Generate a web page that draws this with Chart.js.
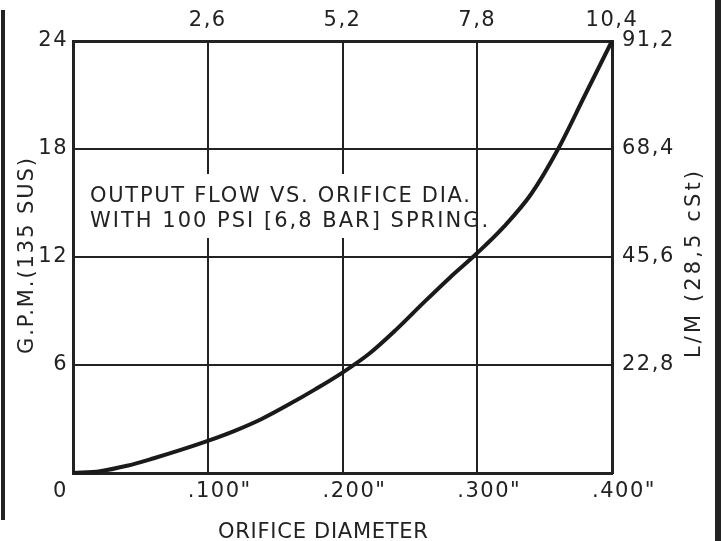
<!DOCTYPE html>
<html><head><meta charset="utf-8">
<script src="https://cdn.jsdelivr.net/npm/chart.js@4/dist/chart.umd.min.js"></script>
<style>html,body{margin:0;padding:0;background:#fff;overflow:hidden}#wrap{width:721px;height:541px;position:relative}</style>
</head><body><div id="wrap"><canvas id="c" width="721" height="541"></canvas></div>
<script>
// ---- data ----
const orificeIn = [0, 0.02, 0.04, 0.06, 0.08, 0.10, 0.12, 0.14, 0.16, 0.18, 0.20, 0.22, 0.24, 0.26, 0.28, 0.30, 0.32, 0.34, 0.36, 0.38, 0.40];
const flowGpm   = [0, 0.1, 0.4, 0.82, 1.28, 1.78, 2.34, 3.0, 3.8, 4.66, 5.58, 6.64, 7.98, 9.45, 10.88, 12.22, 13.7, 15.5, 18.0, 21.0, 24.0];
const xTickValues = [0, 0.1, 0.2, 0.3, 0.4];
const xTickLabels = ['0', '.100"', '.200"', '.300"', '.400"'];
const yTickValues = [6, 12, 18, 24];
const yTickLabels = ['6', '12', '18', '24'];
const mmTickValues = [2.6, 5.2, 7.8, 10.4];
const mmTickLabels = ['2,6', '5,2', '7,8', '10,4'];
const lpmTickValues = [22.8, 45.6, 68.4, 91.2];
const lpmTickLabels = ['22,8', '45,6', '68,4', '91,2'];
const yTitle = 'G.P.M.(135 SUS)';
const y2Title = 'L/M (28,5 cSt)';
const xTitle = 'ORIFICE DIAMETER';
const noteLines = ['OUTPUT FLOW VS. ORIFICE DIA.', 'WITH 100 PSI [6,8 BAR] SPRING.'];

const INK = '#222';
const FONT = "'DejaVu Sans', 'Liberation Sans', sans-serif";
const TICK_SPACING = '1.5px';

function fitText(ctx, text, x, y, targetW, angle) {
  ctx.save();
  ctx.font = '21px ' + FONT;
  ctx.letterSpacing = '0px';
  const w0 = ctx.measureText(text).width;
  const sp = (targetW - w0) / Math.max(1, text.length - 1);
  ctx.letterSpacing = sp.toFixed(2) + 'px';
  ctx.fillStyle = INK;
  ctx.textBaseline = 'alphabetic';
  ctx.translate(x, y);
  if (angle) ctx.rotate(angle);
  ctx.textAlign = angle ? 'center' : 'left';
  ctx.fillText(text, 0, 0);
  ctx.restore();
}

const deco = {
  id: 'deco',
  beforeLayout(chart) { chart.ctx.letterSpacing = TICK_SPACING; },
  beforeDraw(chart) {
    const ctx = chart.ctx;
    ctx.save(); ctx.fillStyle = '#fff'; ctx.fillRect(0, 0, chart.width, chart.height); ctx.restore();
    ctx.letterSpacing = TICK_SPACING;
  },
  beforeDatasetsDraw(chart) {
    const ctx = chart.ctx;
    ctx.save(); ctx.fillStyle = '#fff'; ctx.fillRect(82, 174, 388, 64); ctx.restore();
  },
  afterDraw(chart) {
    const ctx = chart.ctx;
    ctx.save();
    ctx.fillStyle = INK;
    ctx.fillRect(1, 10, 4, 510);
    ctx.fillRect(715, 0, 6, 541);
    ctx.restore();
    fitText(ctx, noteLines[0], 90, 202, 380, 0);
    fitText(ctx, noteLines[1], 90, 227, 398, 0);
    fitText(ctx, xTitle, 218, 538, 210, 0);
    fitText(ctx, yTitle, 33, 255, 196, -Math.PI / 2);
    fitText(ctx, y2Title, 700, 263, 187, -Math.PI / 2);
  }
};

const tickFont = { family: FONT, size: 21 };
const setTicks = vals => s => { s.ticks = vals.map(v => ({ value: v })); };

new Chart(document.getElementById('c'), {
  type: 'line',
  data: {
    datasets: [{
      data: orificeIn.map((x, i) => ({ x, y: flowGpm[i] })),
      borderColor: '#1a1a1a',
      borderWidth: 4,
      pointRadius: 0,
      cubicInterpolationMode: 'monotone',
      fill: false,
      clip: false,
      xAxisID: 'x', yAxisID: 'y'
    }]
  },
  options: {
    responsive: false,
    animation: false,
    devicePixelRatio: 1,
    layout: { padding: 0 },
    plugins: { legend: { display: false }, tooltip: { enabled: false } },
    scales: {
      x: {
        type: 'linear', position: 'bottom', min: 0, max: 0.4,
        afterBuildTicks: setTicks(xTickValues),
        afterFit: s => { s.height = 68; },
        grid: { color: INK, lineWidth: 2, drawTicks: false },
        border: { color: INK, width: 3 },
        ticks: { font: tickFont, color: INK, padding: 6, align: 'start', labelOffset: -20, maxRotation: 0, autoSkip: false,
                 callback: (v, i) => xTickLabels[i] }
      },
      x2: {
        type: 'linear', position: 'top', min: 0, max: 10.4,
        afterBuildTicks: setTicks(mmTickValues),
        afterFit: s => { s.height = 41; },
        grid: { drawOnChartArea: false, drawTicks: false },
        border: { color: INK, width: 3 },
        ticks: { font: tickFont, color: INK, padding: 8, maxRotation: 0, autoSkip: false,
                 callback: (v, i) => mmTickLabels[i] }
      },
      y: {
        type: 'linear', position: 'left', min: 0, max: 24,
        afterBuildTicks: setTicks(yTickValues),
        afterFit: s => { s.width = 73; },
        grid: { color: INK, lineWidth: 2, drawTicks: false },
        border: { color: INK, width: 3 },
        ticks: { font: tickFont, color: INK, padding: 5, autoSkip: false,
                 callback: (v, i) => yTickLabels[i] }
      },
      y2: {
        type: 'linear', position: 'right', min: 0, max: 91.2,
        afterBuildTicks: setTicks(lpmTickValues),
        afterFit: s => { s.width = 109; },
        grid: { drawOnChartArea: false, drawTicks: false },
        border: { color: INK, width: 3 },
        ticks: { font: tickFont, color: INK, padding: 10, autoSkip: false,
                 callback: (v, i) => lpmTickLabels[i] }
      }
    }
  },
  plugins: [deco]
});
</script>
</body></html>
